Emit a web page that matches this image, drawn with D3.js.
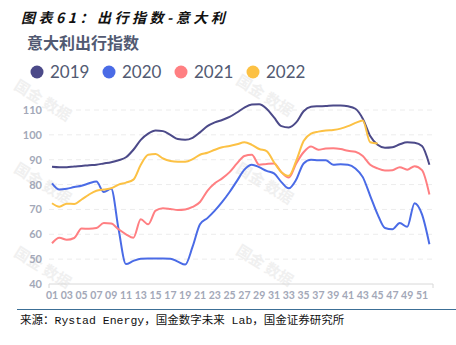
<!DOCTYPE html>
<html>
<head>
<meta charset="utf-8">
<script src="https://cdn.jsdelivr.net/npm/d3@7"></script>
<style>
  body { margin: 0; background: #fff; }
  svg { display: block; }
</style>
</head>
<body>
<div id="chart"></div>
<script>
// weekly travel index, Italy (weeks 1..52)
const years = ['2019', '2020', '2021', '2022'];
const colors = ['#4c4a89', '#4a6be6', '#ff7f82', '#fcc144'];

const s2019 = [87.2, 87, 87, 87.3, 87.5, 87.8, 88, 88.5, 89, 89.8, 91, 94, 98, 100.5, 101.8, 101.5, 100, 98.3, 98, 98.8,
  101, 103.5, 105, 106, 107.2, 109, 111, 112.2, 112.3, 110.5, 107, 103.5, 103, 105, 109.5, 111.3, 111.5, 111.6, 111.8, 111.8,
  111.5, 110.5, 106.5, 99.5, 96, 94.8, 95, 96.2, 97, 96.8, 95.5, 88];
const s2020 = [80.5, 78, 78.3, 79, 79.5, 80.5, 81.2, 77, 78.3, 62, 48, 49.3, 50.2, 50.3, 50.3, 50.3, 50.2, 49, 47.8, 55,
  64, 66.5, 69.5, 73, 77, 81.5, 86, 88, 87, 85.5, 84.5, 81, 78.5, 82, 88.5, 90, 89.8, 89.8, 88, 88.2,
  88, 86.5, 83, 75.5, 68, 62.5, 62, 64.5, 63, 72.5, 68, 56];
const s2021 = [56.4, 58.6, 57.8, 58.5, 62.3, 62.2, 62.5, 64.5, 64.3, 62, 60, 58.6, 66, 64, 69.5, 70.5, 70.2, 69.8, 70, 71,
  73, 77.5, 80.5, 82.5, 85, 88.5, 91.5, 92, 88, 88.3, 88.5, 85, 82.8, 88.5, 93, 95.3, 94, 94.5, 94.6, 94.3,
  93.6, 93.2, 91.5, 88, 86.5, 85.7, 85.8, 87, 86, 87.4, 85.8, 76];
const s2022 = [72.5, 71.1, 72.3, 72.2, 74, 76, 77.5, 78, 78.5, 80, 80.8, 82, 88, 92, 92.3, 90.5, 89.5, 89.2, 89.2, 90.2,
  92, 92.8, 94, 95, 95.5, 96.2, 97, 96, 94.3, 93.5, 89, 85, 83.5, 89.5, 97.5, 100.5, 101.3, 101.8, 102, 102.5,
  103.5, 104.8, 105.8, 97, 96.5];
const yTicks = [40, 50, 60, 70, 80, 90, 100, 110];
const weekLabels = d3.range(1, 52, 2).map(w => String(w).padStart(2, '0'));

const series = [s2019, s2020, s2021, s2022];

const W = 456, H = 345;
const svg = d3.select('#chart').append('svg')
  .attr('width', W)
  .attr('height', H);

// title
svg.append('text')
  .attr('x', 21).attr('y', 23)
  .attr('font-family', '"Noto Sans CJK SC", sans-serif')
  .attr('font-size', 14)
  .attr('font-weight', 'bold')
  .attr('font-style', 'italic')
  .attr('letter-spacing', 3.5)
  .attr('fill', '#111')
  .text('图表61：出行指数-意大利');

// watermarks
const marks = [[40, 105], [262, 100], [40, 188], [262, 188], [40, 272], [262, 270]];
marks.forEach(([mx, my]) => {
  svg.append('text')
    .attr('transform', `translate(${mx},${my}) rotate(32)`)
    .attr('text-anchor', 'middle')
    .attr('font-family', '"Noto Sans CJK SC", sans-serif')
    .attr('font-size', 15)
    .attr('font-weight', 'bold')
    .attr('fill', '#f0f0f0')
    .text('国金 数据');
});

svg.append('text')
  .attr('x', 27).attr('y', 49)
  .attr('font-family', '"Noto Sans CJK SC", sans-serif')
  .attr('font-size', 16)
  .attr('font-weight', 'bold')
  .attr('fill', '#525a72')
  .text('意大利出行指数');

// legend
const legend = svg.append('g').attr('transform', 'translate(37,72)');
years.forEach((yr, i) => {
  const g = legend.append('g').attr('transform', `translate(${i * 72},0)`);
  g.append('circle').attr('r', 6.5).attr('fill', colors[i]);
  g.append('text')
    .attr('x', 13).attr('y', 6)
    .attr('font-family', 'Lato, sans-serif')
    .attr('font-size', 17)
    .attr('fill', '#525a72')
    .text(yr);
});

const x = d3.scaleLinear().domain([1, 52]).range([52, 429.4]);
const y = d3.scaleLinear().domain([40, 110]).range([284, 110]);

// grid
svg.append('g')
  .selectAll('line')
  .data(yTicks.slice(1))
  .join('line')
  .attr('x1', 49).attr('x2', 433)
  .attr('y1', d => y(d)).attr('y2', d => y(d))
  .attr('stroke', '#ececec')
  .attr('stroke-dasharray', '5,4');

// y labels
svg.append('g')
  .selectAll('text')
  .data(yTicks)
  .join('text')
  .attr('x', 42)
  .attr('y', d => y(d) + 4)
  .attr('text-anchor', 'end')
  .attr('font-family', 'Lato, sans-serif')
  .attr('font-size', 11)
  .attr('font-weight', 'bold')
  .attr('fill', '#a3a8b8')
  .text(d => d);

// x axis
const xAxis = svg.append('g');
xAxis.append('path')
  .attr('d', `M49,288V284H433V288`)
  .attr('fill', 'none')
  .attr('stroke', '#d8d8d8');
xAxis.selectAll('text')
  .data(weekLabels)
  .join('text')
  .attr('x', d => x(+d))
  .attr('y', 299)
  .attr('text-anchor', 'middle')
  .attr('font-family', 'Lato, sans-serif')
  .attr('font-size', 10.5)
  .attr('font-weight', 'bold')
  .attr('fill', '#a3a8b8')
  .text(d => d);

const line = d3.line()
  .x((d, i) => x(i + 1))
  .y(d => y(d))
  .curve(d3.curveMonotoneX);

series.forEach((s, i) => {
  svg.append('path')
    .datum(s)
    .attr('fill', 'none')
    .attr('stroke', colors[i])
    .attr('stroke-width', 2)
    .attr('d', line);
});

// footer
svg.append('line')
  .attr('x1', 17).attr('x2', W)
  .attr('y1', 309.5).attr('y2', 309.5)
  .attr('stroke', '#3c6f96')
  .attr('stroke-width', 1.2);

svg.append('text')
  .attr('x', 20).attr('y', 324)
  .attr('font-family', '"Liberation Mono", "Noto Sans CJK SC", monospace')
  .attr('font-size', 11.5)
  .attr('fill', '#111')
  .text('来源：Rystad Energy，国金数字未来 Lab，国金证券研究所');
</script>
</body>
</html>
